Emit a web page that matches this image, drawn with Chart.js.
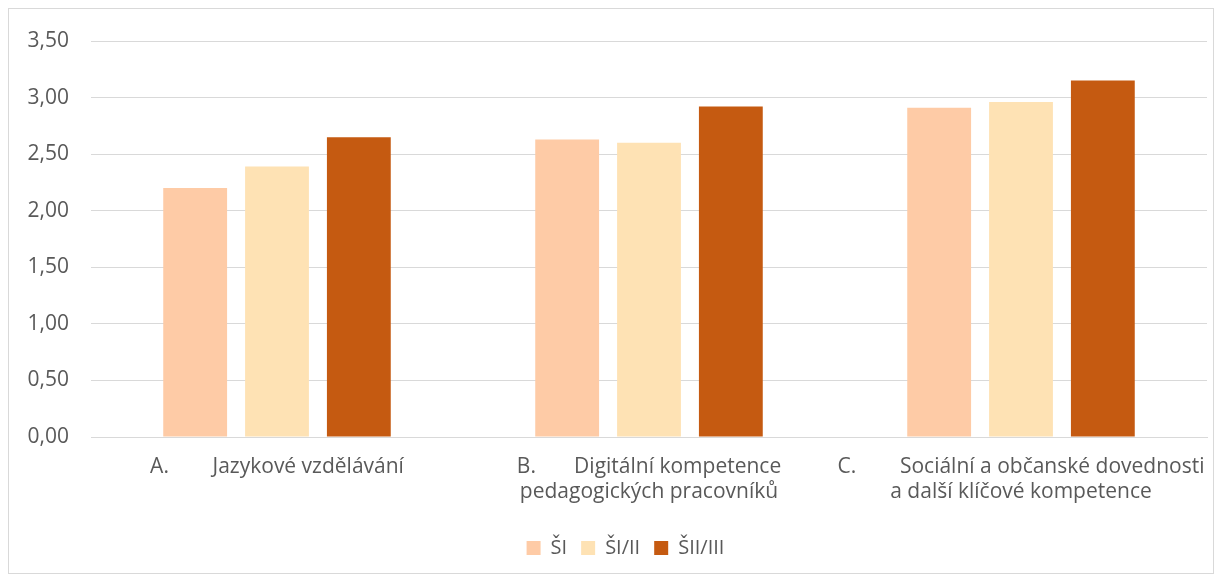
<!DOCTYPE html>
<html>
<head>
<meta charset="utf-8">
<script src="https://cdn.jsdelivr.net/npm/chart.js@4"></script>
<style>
  html, body { margin: 0; padding: 0; background: #fff; }
  #wrap { position: relative; width: 1223px; height: 580px; }
  #frame { position: absolute; left: 8px; top: 8px; width: 1204px; height: 564px; border: 1px solid #d9d9d9; }
  canvas { position: absolute; left: 0; top: 0; }
</style>
</head>
<body>
<div id="wrap">
  <div id="frame"></div>
  <canvas id="chart" width="1223" height="580"></canvas>
</div>
<script>
const categories = [
    ["A.        Jazykové vzdělávání"],
    ["B.       Digitální kompetence", "pedagogických pracovníků"],
    ["C.        Sociální a občanské dovednosti", "a další klíčové kompetence"]
];
const seriesNames = ["ŠI", "ŠI/II", "ŠII/III"];
const valuesSI = [2.20, 2.63, 2.91];
const valuesSI_II = [2.39, 2.60, 2.96];
const valuesSII_III = [2.65, 2.92, 3.15];
const yTicks = [0, 0.5, 1, 1.5, 2, 2.5, 3, 3.5];

const colors = ["#fecba6", "#fee2b4", "#c55a11"];
const font = "'Open Sans', 'Noto Sans', sans-serif";

// Excel centres the legend a bit right of the plot centre
const shiftLegend = {
    id: "shiftLegend",
    afterLayout(chart) {
        if (chart.legend) {
            chart.legend.left += 22;
            chart.legend.right += 22;
        }
    }
};

const ctx = document.getElementById("chart").getContext("2d");

new Chart(ctx, {
    type: "bar",
    data: {
        labels: categories,
        datasets: [
            { label: seriesNames[0], data: valuesSI, backgroundColor: colors[0] },
            { label: seriesNames[1], data: valuesSI_II, backgroundColor: colors[1] },
            { label: seriesNames[2], data: valuesSII_III, backgroundColor: colors[2] }
        ]
    },
    options: {
        responsive: false,
        animation: false,
        layout: { padding: { left: 0, right: 16, top: 41, bottom: 12 } },
        datasets: {
            bar: { categoryPercentage: 0.66, barPercentage: 0.78 }
        },
        scales: {
            x: {
                grid: { display: false, drawTicks: false },
                border: { color: "#d9d9d9", width: 1 },
                ticks: {
                    color: "#595959",
                    font: { family: font, size: 21, lineHeight: 1.17 },
                    padding: 18,
                    maxRotation: 0,
                    autoSkip: false
                },
                afterFit: function(scale) {
                    scale.height = 87;
                    scale.paddingLeft = 0;
                    scale.paddingRight = 0;
                }
            },
            y: {
                min: 0,
                max: 3.5,
                afterBuildTicks: function(scale) {
                    scale.ticks = yTicks.map(v => ({ value: v }));
                },
                grid: { color: "#d9d9d9", lineWidth: 1, drawTicks: false },
                border: { display: false },
                ticks: {
                    color: "#595959",
                    font: { family: font, size: 21 },
                    padding: 22,
                    callback: function(value) {
                        return value.toFixed(2).replace(".", ",");
                    }
                },
                afterFit: function(scale) { scale.width = 91; }
            }
        },
        plugins: {
            legend: {
                position: "bottom",
                labels: {
                    color: "#595959",
                    font: { family: font, size: 20 },
                    boxWidth: 14,
                    boxHeight: 14,
                    padding: 14
                }
            },
            tooltip: { enabled: false }
        }
    },
    plugins: [shiftLegend]
});
</script>
</body>
</html>
